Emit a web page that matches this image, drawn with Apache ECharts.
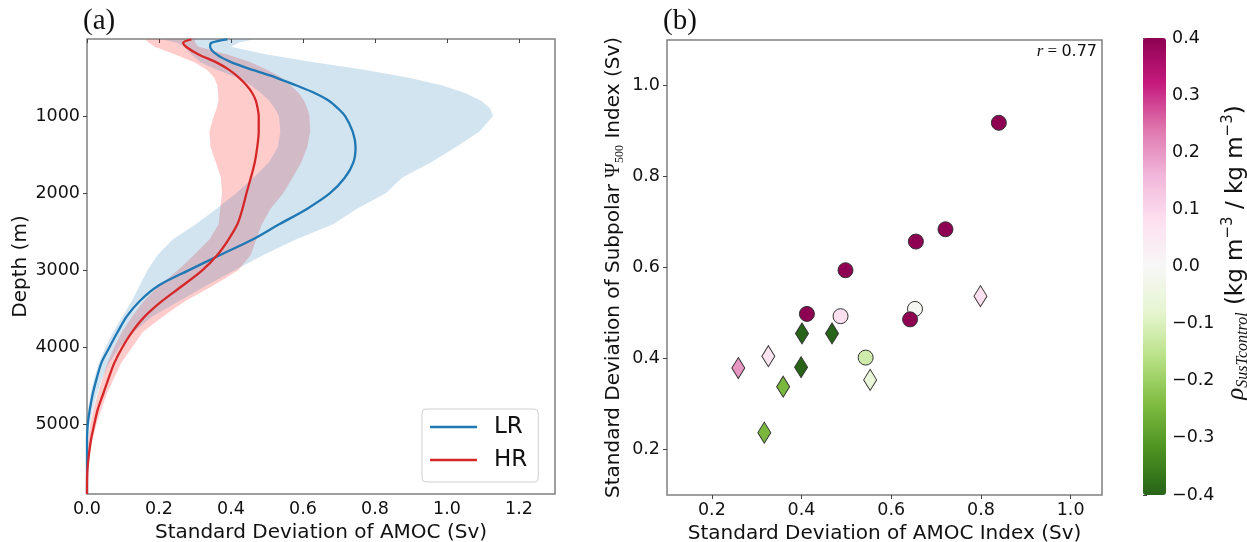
<!DOCTYPE html>
<html>
<head>
<meta charset="utf-8">
<script src="https://cdn.jsdelivr.net/npm/echarts@6/dist/echarts.min.js"></script>
<style>
  html, body { margin: 0; padding: 0; background: #fff; }
  #chart { width: 1247px; height: 542px; }
</style>
</head>
<body>
<div id="chart"></div>
<script>
// panel (a): std of AMOC vs depth
const depth  = [5, 50, 100, 200, 300, 400, 500, 600, 700, 800, 900, 1000, 1200, 1400, 1600, 1800, 2000, 2200, 2400, 2600, 2800, 3000, 3200, 3400, 3600, 3800, 4000, 4200, 4400, 4600, 4800, 5000, 5200, 5400, 5600, 5800, 5900];
const lrMean = [0.39, 0.345, 0.342, 0.36, 0.40, 0.46, 0.525, 0.58, 0.632, 0.672, 0.697, 0.717, 0.738, 0.746, 0.740, 0.716, 0.675, 0.612, 0.535, 0.46, 0.37, 0.282, 0.198, 0.146, 0.11, 0.085, 0.062, 0.04, 0.027, 0.016, 0.008, 0.002, 0, 0, 0, 0, 0];
const hrMean = [0.29, 0.267, 0.275, 0.31, 0.358, 0.395, 0.422, 0.443, 0.459, 0.469, 0.474, 0.477, 0.477, 0.473, 0.466, 0.455, 0.443, 0.432, 0.418, 0.393, 0.362, 0.32, 0.265, 0.208, 0.16, 0.125, 0.098, 0.076, 0.06, 0.045, 0.03, 0.02, 0.011, 0.005, 0.001, 0, 0];
const lrLow  = [0.21, 0.25, 0.27, 0.29, 0.315, 0.36, 0.418, 0.455, 0.483, 0.506, 0.522, 0.533, 0.537, 0.53, 0.505, 0.462, 0.414, 0.36, 0.303, 0.238, 0.196, 0.168, 0.146, 0.124, 0.098, 0.073, 0.051, 0.033, 0.02, 0.01, 0.003, 0, 0, 0, 0, 0, 0];
const lrHigh = [0.46, 0.42, 0.40, 0.50, 0.63, 0.77, 0.89, 0.985, 1.05, 1.095, 1.12, 1.128, 1.09, 1.025, 0.955, 0.875, 0.83, 0.75, 0.685, 0.58, 0.49, 0.41, 0.33, 0.255, 0.18, 0.13, 0.09, 0.062, 0.042, 0.028, 0.016, 0.007, 0.002, 0, 0, 0, 0];
const hrLow  = [0.162, 0.172, 0.188, 0.245, 0.298, 0.333, 0.353, 0.362, 0.364, 0.365, 0.36, 0.352, 0.34, 0.343, 0.358, 0.372, 0.375, 0.37, 0.366, 0.34, 0.297, 0.252, 0.2, 0.157, 0.125, 0.097, 0.075, 0.057, 0.043, 0.03, 0.018, 0.009, 0.003, 0, 0, 0, 0];
const hrHigh = [0.30, 0.30, 0.31, 0.39, 0.455, 0.50, 0.54, 0.565, 0.588, 0.603, 0.612, 0.618, 0.62, 0.612, 0.595, 0.571, 0.545, 0.51, 0.486, 0.47, 0.455, 0.42, 0.35, 0.272, 0.21, 0.155, 0.125, 0.095, 0.075, 0.055, 0.04, 0.026, 0.015, 0.007, 0.002, 0, 0];

// panel (b): scatter, third value is the correlation used for colour
const circleX   = [0.840, 0.655, 0.721, 0.498, 0.412, 0.487, 0.653, 0.642, 0.543];
const circleY   = [0.918, 0.657, 0.684, 0.594, 0.498, 0.493, 0.509, 0.486, 0.402];
const circleRho = [0.4, 0.4, 0.4, 0.4, 0.4, 0.08, -0.01, 0.4, -0.12];
const diamondX   = [0.799, 0.401, 0.468, 0.326, 0.259, 0.399, 0.553, 0.359, 0.317];
const diamondY   = [0.537, 0.455, 0.455, 0.405, 0.379, 0.381, 0.353, 0.338, 0.237];
const diamondRho = [0.08, -0.4, -0.4, 0.07, 0.2, -0.4, -0.06, -0.25, -0.25];

const aXTicks = [0, 0.2, 0.4, 0.6, 0.8, 1.0, 1.2];
const aYTicks = [1000, 2000, 3000, 4000, 5000];
const bXTicks = [0.2, 0.4, 0.6, 0.8, 1.0];
const bYTicks = [0.2, 0.4, 0.6, 0.8, 1.0];
const cbTicks = [-0.4, -0.3, -0.2, -0.1, 0, 0.1, 0.2, 0.3, 0.4];

const piyg = ['#276419', '#4d9221', '#7fbc41', '#b8e186', '#e6f5d0', '#f7f7f7',
              '#fde0ef', '#f1b6da', '#de77ae', '#c51b7d', '#8e0152'];

const frame = '#808080';
const font = 'DejaVu Sans';
const tickStyle = { show: true, length: 4, lineStyle: { color: '#444', width: 1 } };
const labelStyle = { color: '#111', fontSize: 17.5, fontFamily: font };
const fmt1 = v => (v < 0 ? '\u2212' : '') + Math.abs(v).toFixed(1);

function bandSeries(lo, hi, color) {
  return {
    type: 'custom',
    xAxisIndex: 0, yAxisIndex: 0,
    silent: true, z: 1,
    data: depth.map((d, i) => [lo[i], d, hi[i]]),
    encode: { x: [0, 2], y: 1 },
    renderItem: function (params, api) {
      if (params.dataIndex !== 0) return;
      const pts = [];
      for (let i = 0; i < depth.length; i++) pts.push(api.coord([lo[i], depth[i]]));
      for (let i = depth.length - 1; i >= 0; i--) pts.push(api.coord([hi[i], depth[i]]));
      return { type: 'polygon', shape: { points: pts }, style: { fill: color } };
    }
  };
}

const chart = echarts.init(document.getElementById('chart'), null, { renderer: 'canvas', devicePixelRatio: 1 });

chart.setOption({
  backgroundColor: '#fff',
  animation: false,
  textStyle: { fontFamily: font },
  title: [
    { text: '(a)', left: 83, top: 7, padding: 0,
      textStyle: { fontFamily: 'Liberation Serif', fontSize: 29, fontWeight: 'normal', color: '#111' } },
    { text: '(b)', left: 663, top: 7, padding: 0,
      textStyle: { fontFamily: 'Liberation Serif', fontSize: 29, fontWeight: 'normal', color: '#111' } },
    { text: '{r|r}{eq| = }{v|0.77}', right: 150, top: 43, padding: 0,
      textStyle: { fontWeight: 'normal', rich: {
        r: { fontFamily: 'Liberation Serif', fontStyle: 'italic', fontWeight: 'normal', fontSize: 17, color: '#111' },
        eq: { fontFamily: 'Liberation Serif', fontWeight: 'normal', fontSize: 17, color: '#111' },
        v: { fontFamily: font, fontWeight: 'normal', fontSize: 16, color: '#111' }
      } } }
  ],
  legend: {
    data: ['LR', 'HR'],
    orient: 'vertical',
    left: 422, top: 409,
    padding: [6, 11, 10, 8],
    itemGap: 9,
    icon: 'rect',
    itemWidth: 47, itemHeight: 2.5,
    borderColor: '#d0d0d0', borderWidth: 1, borderRadius: 4,
    backgroundColor: 'rgba(255,255,255,0.85)',
    textStyle: { fontSize: 23, fontFamily: font, color: '#111', padding: [0, 0, 0, 12], lineHeight: 24 }
  },
  grid: [
    { left: 87, top: 39, width: 468, height: 455, outerBoundsMode: 'none', show: true, borderColor: frame, borderWidth: 1.5, backgroundColor: 'transparent' },
    { left: 667, top: 40, width: 435, height: 455, outerBoundsMode: 'none', show: true, borderColor: frame, borderWidth: 1.5, backgroundColor: 'transparent' },
    { left: 1143, top: 38, width: 23, height: 457, outerBoundsMode: 'none', show: false }
  ],
  xAxis: [
    { type: 'value', gridIndex: 0, min: 0, max: 1.3,
      name: 'Standard Deviation of AMOC (Sv)', nameLocation: 'middle', nameGap: 27,
      nameTextStyle: { fontSize: 20, color: '#111', fontFamily: font },
      axisLine: { show: false }, splitLine: { show: false },
      axisTick: Object.assign({ customValues: aXTicks }, tickStyle),
      axisLabel: Object.assign({ customValues: aXTicks, margin: 6, formatter: fmt1 }, labelStyle) },
    { type: 'value', gridIndex: 1, min: 0.1, max: 1.07,
      name: 'Standard Deviation of AMOC Index (Sv)', nameLocation: 'middle', nameGap: 27,
      nameTextStyle: { fontSize: 20, color: '#111', fontFamily: font },
      axisLine: { show: false }, splitLine: { show: false },
      axisTick: Object.assign({ customValues: bXTicks }, tickStyle),
      axisLabel: Object.assign({ customValues: bXTicks, margin: 6, formatter: fmt1 }, labelStyle) },
    { type: 'value', gridIndex: 2, show: false, min: 0, max: 1 }
  ],
  yAxis: [
    { type: 'value', gridIndex: 0, min: 0, max: 5900, inverse: true,
      name: 'Depth (m)', nameLocation: 'middle', nameGap: 56, nameRotate: 90,
      nameTextStyle: { fontSize: 20, color: '#111', fontFamily: font },
      axisLine: { show: false }, splitLine: { show: false },
      axisTick: Object.assign({ customValues: aYTicks }, tickStyle),
      axisLabel: Object.assign({ customValues: aYTicks, margin: 7, formatter: v => String(v) }, labelStyle) },
    { type: 'value', gridIndex: 1, min: 0.1, max: 1.1,
      name: '{n|Standard Deviation of Subpolar }{psi|\u03A8}{sub|500}{n| Index (Sv)}',
      nameLocation: 'middle', nameGap: 41, nameRotate: 90,
      nameTextStyle: { rich: {
        n: { fontSize: 20, color: '#111', fontFamily: font, lineHeight: 24 },
        psi: { fontSize: 20, color: '#111', fontFamily: 'Liberation Serif', lineHeight: 24 },
        sub: { fontSize: 12, color: '#111', fontFamily: 'Liberation Serif', verticalAlign: 'bottom', lineHeight: 24 }
      } },
      axisLine: { show: false }, splitLine: { show: false },
      axisTick: Object.assign({ customValues: bYTicks }, tickStyle),
      axisLabel: Object.assign({ customValues: bYTicks, margin: 7, formatter: fmt1 }, labelStyle) },
    { type: 'value', gridIndex: 2, position: 'right', min: -0.4, max: 0.4,
      name: '{rho|\u03C1}{sub|SusTcontrol}{n| (kg m}{sup|\u22123}{n| / kg m}{sup|\u22123}{n|)}',
      nameLocation: 'middle', nameGap: 55, nameRotate: 90,
      nameTextStyle: { padding: [0, 0, 0, 28], rich: {
        n: { fontSize: 23, color: '#111', fontFamily: font, lineHeight: 30 },
        rho: { fontSize: 25, color: '#111', fontFamily: 'Liberation Serif', fontStyle: 'italic', lineHeight: 30 },
        sub: { fontSize: 16, color: '#111', fontFamily: 'Liberation Serif', fontStyle: 'italic', verticalAlign: 'bottom', lineHeight: 30 },
        sup: { fontSize: 15, color: '#111', fontFamily: font, verticalAlign: 'top', lineHeight: 30 }
      } },
      axisLine: { show: false }, splitLine: { show: false },
      axisTick: Object.assign({ customValues: cbTicks }, tickStyle),
      axisLabel: Object.assign({ customValues: cbTicks, margin: 6, formatter: fmt1 }, labelStyle) }
  ],
  visualMap: {
    type: 'continuous',
    min: -0.4, max: 0.4,
    dimension: 2,
    seriesIndex: [4, 5],
    inRange: { color: piyg },
    left: 1143, top: 38, padding: 0,
    itemWidth: 23, itemHeight: 457,
    calculable: false, hoverLink: false, text: null
  },
  series: [
    bandSeries(hrLow, hrHigh, 'rgba(255,0,0,0.2)'),
    bandSeries(lrLow, lrHigh, 'rgba(31,119,180,0.2)'),
    { type: 'line', name: 'LR', xAxisIndex: 0, yAxisIndex: 0, z: 3,
      data: depth.map((d, i) => [lrMean[i], d]),
      symbol: 'none', smooth: 0.3,
      lineStyle: { color: '#1f77b4', width: 2.3 }, itemStyle: { color: '#1f77b4' } },
    { type: 'line', name: 'HR', xAxisIndex: 0, yAxisIndex: 0, z: 3,
      data: depth.map((d, i) => [hrMean[i], d]),
      symbol: 'none', smooth: 0.3,
      lineStyle: { color: '#d62728', width: 2.3 }, itemStyle: { color: '#d62728' } },
    { type: 'scatter', xAxisIndex: 1, yAxisIndex: 1, z: 4,
      symbol: 'circle', symbolSize: 15,
      data: circleX.map((x, i) => [x, circleY[i], circleRho[i]]),
      itemStyle: { borderColor: '#333', borderWidth: 1, opacity: 1 } },
    { type: 'scatter', xAxisIndex: 1, yAxisIndex: 1, z: 4,
      symbol: 'diamond', symbolSize: [13, 21],
      data: diamondX.map((x, i) => [x, diamondY[i], diamondRho[i]]),
      itemStyle: { borderColor: '#333', borderWidth: 1, opacity: 1 } }
  ]
});
</script>
</body>
</html>
